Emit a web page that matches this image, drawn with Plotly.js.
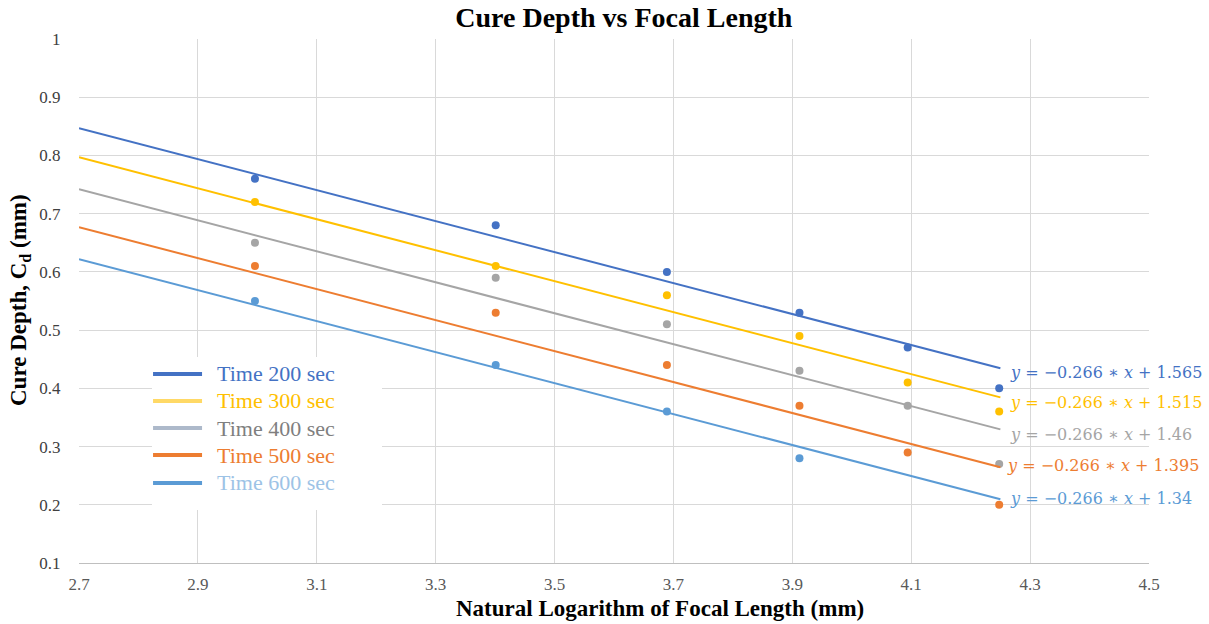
<!DOCTYPE html>
<html>
<head>
<meta charset="utf-8">
<script src="https://cdn.plot.ly/plotly-3.0.1.min.js"></script>
<style>html,body{margin:0;padding:0;background:#fff;}#chart{width:1209px;height:624px;}</style>
</head>
<body>
<div id="chart"></div>
<script>
// Natural log of focal length (20,30,40,50,60,70 mm)
const lnFocal = [2.996, 3.401, 3.689, 3.912, 4.094, 4.248];
const seriesNames = ["Time 200 sec", "Time 300 sec", "Time 400 sec", "Time 500 sec", "Time 600 sec"];
const cd200 = [0.76, 0.68, 0.60, 0.53, 0.47, 0.40];
const cd300 = [0.72, 0.61, 0.56, 0.49, 0.41, 0.36];
const cd400 = [0.65, 0.59, 0.51, 0.43, 0.37, 0.27];
const cd500 = [0.61, 0.53, 0.44, 0.37, 0.29, 0.20];
const cd600 = [0.55, 0.44, 0.36, 0.28, null, null];
// Trendline coefficients shown on the chart
const slope = [-0.266, -0.266, -0.266, -0.266, -0.266];
const intercept = [1.565, 1.515, 1.46, 1.395, 1.34];
const interceptLabels = ["1.565", "1.515", "1.46", "1.395", "1.34"];
const trendRange = [2.7, 4.25];
const xTicks = [2.7, 2.9, 3.1, 3.3, 3.5, 3.7, 3.9, 4.1, 4.3, 4.5];
const yTicks = [0.1, 0.2, 0.3, 0.4, 0.5, 0.6, 0.7, 0.8, 0.9, 1];

const seriesValues = [cd200, cd300, cd400, cd500, cd600];
const colors = ["#4472C4", "#FFC000", "#A5A5A5", "#ED7D31", "#5B9BD5"];
const legendLineColors = ["#4472C4", "#FFD966", "#ADB9CA", "#ED7D31", "#5B9BD5"];
const legendTextColors = ["#4472C4", "#FFC000", "#7F7F7F", "#ED7D31", "#9DC3E6"];
const eqTextColors = ["#4472C4", "#FFC000", "#A5A5A5", "#ED7D31", "#5B9BD5"];
const eqY = [0.428, 0.375, 0.320, 0.267, 0.210];
const eqX = [4.262, 4.262, 4.262, 4.257, 4.262];
const legendY = [0.3607, 0.3092, 0.2576, 0.2061, 0.1527];

const traces = [];
const annotations = [];
const shapes = [{type: "rect", xref: "paper", yref: "paper", x0: 0.0682, x1: 0.2832, y0: 0.1011, y1: 0.3931,
                 fillcolor: "#fff", line: {width: 0}, layer: "above"}];
seriesValues.forEach((vals, i) => {
  const xs = [], ys = [];
  vals.forEach((v, j) => { if (v !== null) { xs.push(lnFocal[j]); ys.push(v); } });
  traces.push({
    x: trendRange, y: trendRange.map(x => slope[i] * x + intercept[i]),
    mode: "lines", line: {color: colors[i], width: 2}, showlegend: false, hoverinfo: "skip"
  });
  traces.push({
    x: xs, y: ys, mode: "markers", marker: {color: colors[i], size: 8},
    showlegend: false, name: seriesNames[i]
  });
  annotations.push({
    x: eqX[i], y: eqY[i], xref: "x", yref: "y", xanchor: "left", yanchor: "middle",
    showarrow: false,
    text: "<i>y</i> = −0.266 ∗ <i>x</i> + " + interceptLabels[i],
    font: {family: "DejaVu Serif", size: 16, color: eqTextColors[i]}
  });
  // legend (drawn manually)
  shapes.push({type: "line", xref: "paper", yref: "paper", x0: 0.0692, x1: 0.115, y0: legendY[i], y1: legendY[i],
               line: {color: legendLineColors[i], width: 4}, layer: "above"});
  annotations.push({
    x: 0.1271, y: legendY[i], xref: "paper", yref: "paper", xanchor: "left", yanchor: "middle",
    showarrow: false, text: seriesNames[i],
    font: {family: "Liberation Serif", size: 22, color: legendTextColors[i]}
  });
});
annotations.push({
  x: 0.543, y: -0.0859, xref: "paper", yref: "paper", xanchor: "center", yanchor: "middle", showarrow: false,
  text: "<b>Natural Logarithm of Focal Length (mm)</b>",
  font: {family: "Liberation Serif", size: 23, color: "#000"}
});
annotations.push({
  x: -0.0551, y: 0.502, xref: "paper", yref: "paper", xanchor: "center", yanchor: "middle", showarrow: false,
  textangle: -90, text: "<b>Cure Depth, C<sub>d</sub> (mm)</b>",
  font: {family: "Liberation Serif", size: 23, color: "#000"}
});

const layout = {
  width: 1209, height: 624,
  paper_bgcolor: "#fff", plot_bgcolor: "#fff",
  margin: {l: 79, r: 60, t: 39, b: 61},
  font: {family: "Liberation Serif", color: "#595959"},
  title: {text: "<b>Cure Depth vs Focal Length</b>", x: 0.516, xanchor: "center", y: 0.972, yanchor: "middle",
          font: {family: "Liberation Serif", size: 28, color: "#000"}},
  xaxis: {range: [2.7, 4.5], tickvals: xTicks, ticktext: xTicks.map(v => v.toFixed(1)),
          showgrid: true, gridcolor: "#D9D9D9", zeroline: false, showline: true, linecolor: "#BFBFBF", linewidth: 1,
          ticks: "outside", ticklen: 6, tickcolor: "rgba(0,0,0,0)",
          tickfont: {family: "Liberation Serif", size: 17, color: "#595959"}},
  yaxis: {range: [0.1, 1], tickvals: yTicks, ticktext: yTicks.map(v => String(v)),
          showgrid: true, gridcolor: "#D9D9D9", zeroline: false, showline: false,
          ticks: "outside", ticklen: 14, tickcolor: "rgba(0,0,0,0)",
          tickfont: {family: "Liberation Serif", size: 17, color: "#404040"}},
  annotations: annotations,
  shapes: shapes,
  showlegend: false
};
Plotly.newPlot("chart", traces, layout, {displayModeBar: false, staticPlot: true});
</script>
</body>
</html>
